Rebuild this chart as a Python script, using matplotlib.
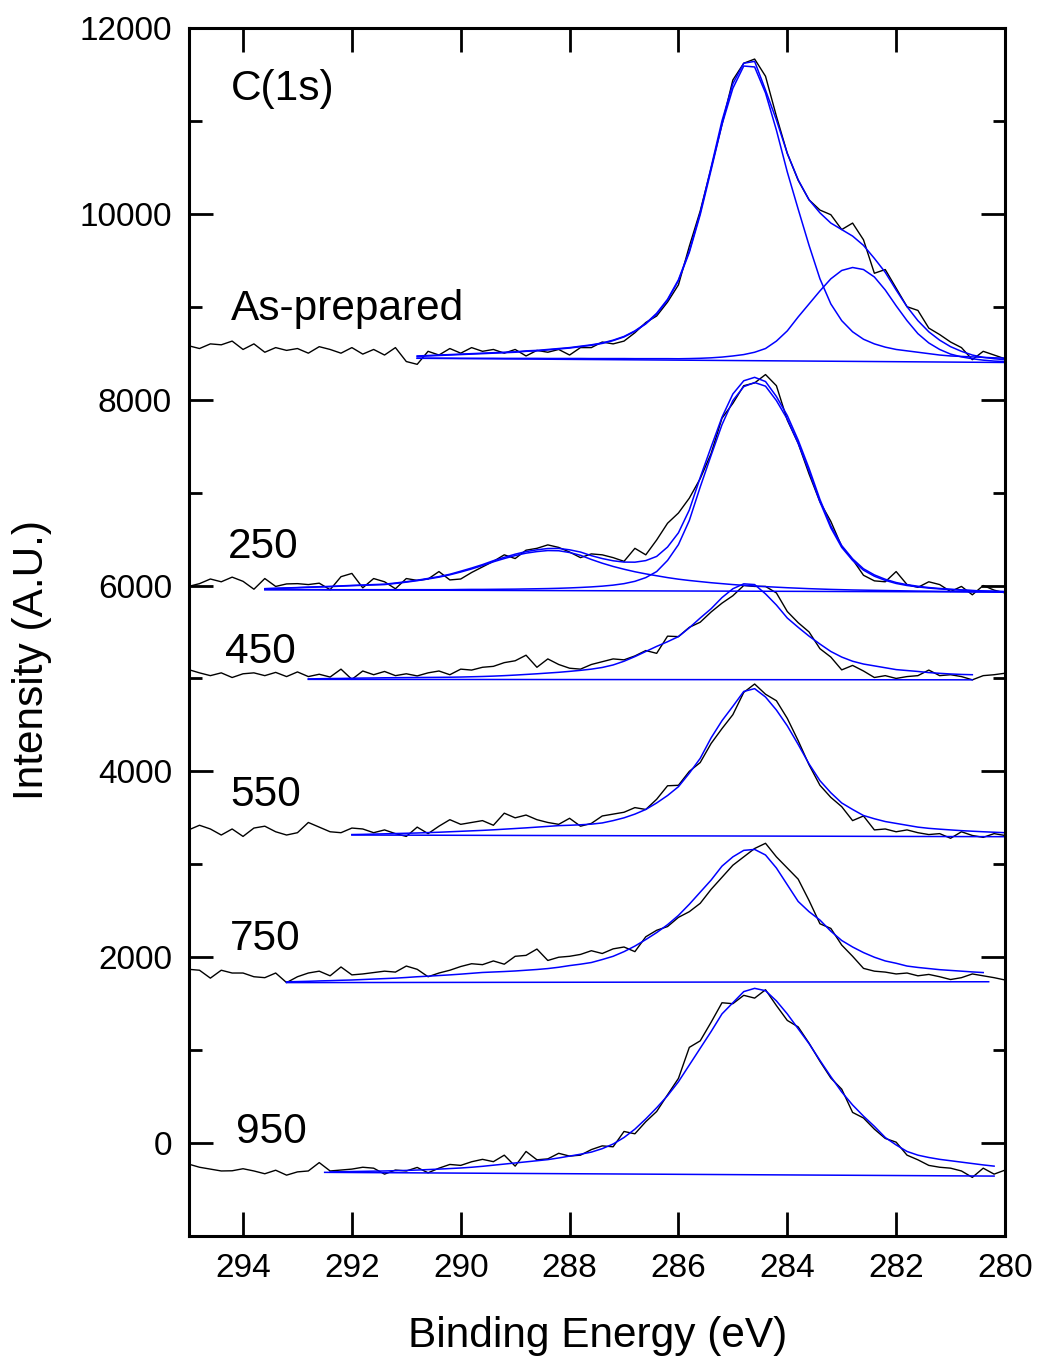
import numpy as np
import matplotlib.pyplot as plt
from matplotlib.ticker import MultipleLocator

plt.rcParams['font.family'] = ['Liberation Sans', 'DejaVu Sans']

# energia de ligadura de los espectros medidos (paso 0.2 eV)
e_data = np.linspace(295.0, 280.0, 76)

# espectros medidos (cuentas)
asprep = [8580, 8550, 8600, 8590, 8630, 8540, 8600, 8510, 8560, 8530,
          8550, 8500, 8570, 8540, 8500, 8560, 8490, 8540, 8480, 8560,
          8410, 8380, 8520, 8480, 8550, 8500, 8560, 8520, 8540, 8500,
          8540, 8470, 8530, 8510, 8540, 8480, 8560, 8560, 8620, 8600,
          8630, 8720, 8830, 8900, 9050, 9235, 9650, 10030, 10490, 10960,
          11440, 11620, 11665, 11480, 11050, 10650, 10360, 10150, 10040, 9990,
          9830, 9900, 9720, 9360, 9400, 9200, 9000, 8960, 8770, 8700,
          8620, 8560, 8430, 8520, 8480, 8440]
t250 = [5990, 6020, 6070, 6040, 6090, 6045, 5960, 6075, 5990, 6017,
        6020, 6010, 6025, 5955, 6095, 6130, 5975, 6075, 6040, 5965,
        6075, 6055, 6070, 6150, 6060, 6070, 6140, 6200, 6260, 6330,
        6290, 6380, 6400, 6437, 6410, 6360, 6300, 6340, 6330, 6300,
        6260, 6400, 6330, 6490, 6670, 6780, 6940, 7150, 7420, 7800,
        7960, 8150, 8180, 8270, 8150, 7780, 7530, 7200, 6900, 6690,
        6420, 6280, 6110, 6050, 6040, 6150, 6010, 5980, 6040, 6010,
        5935, 5990, 5900, 6000, 5950, 5920]
t450 = [5095, 5060, 5030, 5060, 5010, 5050, 5060, 5030, 5065, 5020,
        5070, 5020, 5045, 5015, 5100, 4990, 5080, 5040, 5075, 5030,
        5050, 5027, 5060, 5080, 5040, 5100, 5090, 5120, 5130, 5170,
        5190, 5250, 5120, 5210, 5150, 5110, 5100, 5150, 5180, 5210,
        5200, 5242, 5300, 5270, 5455, 5450, 5550, 5605, 5715, 5810,
        5890, 6000, 5990, 5990, 5920, 5720, 5600, 5500, 5320, 5230,
        5092, 5140, 5080, 5010, 5030, 5000, 5020, 5030, 5090, 5030,
        5040, 5020, 4985, 5030, 5040, 5056]
t550 = [3370, 3420, 3380, 3315, 3380, 3300, 3390, 3410, 3350, 3315,
        3340, 3450, 3400, 3350, 3340, 3390, 3380, 3340, 3370, 3330,
        3300, 3400, 3330, 3410, 3480, 3430, 3450, 3470, 3420, 3550,
        3500, 3530, 3480, 3450, 3430, 3495, 3410, 3440, 3520, 3540,
        3560, 3610, 3590, 3700, 3845, 3850, 4000, 4095, 4300, 4460,
        4610, 4850, 4940, 4830, 4760, 4570, 4330, 4070, 3850, 3720,
        3620, 3470, 3520, 3370, 3380, 3350, 3370, 3340, 3320, 3330,
        3280, 3350, 3310, 3290, 3330, 3310]
t750 = [1870, 1860, 1775, 1860, 1830, 1830, 1790, 1780, 1830, 1727,
        1790, 1830, 1850, 1800, 1895, 1810, 1820, 1835, 1850, 1840,
        1905, 1870, 1790, 1830, 1860, 1900, 1930, 1920, 1960, 1925,
        2010, 2020, 2088, 1965, 2000, 2010, 2030, 2070, 2040, 2090,
        2110, 2060, 2220, 2290, 2330, 2429, 2490, 2580, 2730, 2860,
        2990, 3080, 3170, 3226, 3080, 2960, 2840, 2610, 2360, 2310,
        2131, 2010, 1880, 1850, 1840, 1820, 1830, 1800, 1815, 1790,
        1760, 1780, 1820, 1800, 1780, 1755]
t950 = [-226, -260, -280, -300, -298, -276, -300, -330, -292, -345,
        -310, -300, -210, -300, -290, -280, -260, -270, -334, -290,
        -300, -262, -320, -270, -230, -240, -201, -175, -200, -130,
        -248, -90, -180, -170, -110, -140, -130, -70, -30, -40,
        125, 100, 230, 340, 520, 696, 1030, 1100, 1300, 1510,
        1500, 1590, 1560, 1650, 1480, 1320, 1250, 1075, 880, 700,
        580, 330, 270, 150, 50, 10, -130, -180, -240, -260,
        -270, -300, -369, -270, -334, -291]

# ajustes: As-prepared
e_fit_ap = np.linspace(290.8, 280.0, 55)
ap_env = [8470, 8475, 8480, 8485, 8490, 8495, 8500, 8505, 8510, 8515,
          8525, 8530, 8540, 8550, 8560, 8575, 8590, 8610, 8640, 8680,
          8740, 8820, 8930, 9080, 9290, 9600, 10010, 10500, 11000, 11400,
          11620, 11640, 11330, 11010, 10650, 10366, 10150, 10010, 9900, 9830,
          9760, 9660, 9520, 9370, 9180, 9000, 8850, 8730, 8640, 8570,
          8520, 8480, 8455, 8440, 8430]
ap_c1 = [8465, 8470, 8475, 8480, 8485, 8490, 8495, 8500, 8505, 8510,
         8520, 8525, 8535, 8545, 8555, 8570, 8585, 8605, 8635, 8675,
         8735, 8815, 8920, 9070, 9280, 9585, 9990, 10470, 10960, 11350,
         11590, 11580, 11300, 10900, 10450, 10050, 9660, 9300, 9030, 8850,
         8730, 8650, 8600, 8565, 8540, 8525, 8510, 8495, 8480, 8470,
         8465, 8460, 8455, 8450, 8447]
ap_c2 = [8446, 8446, 8446, 8446, 8445, 8445, 8445, 8445, 8444, 8444,
         8444, 8444, 8443, 8443, 8443, 8443, 8442, 8442, 8442, 8442,
         8441, 8441, 8441, 8441, 8440, 8442, 8445, 8450, 8458, 8470,
         8485, 8510, 8550, 8630, 8740, 8890, 9030, 9170, 9300, 9390,
         9422, 9400, 9320, 9180, 9010, 8850, 8710, 8610, 8540, 8490,
         8460, 8440, 8425, 8415, 8410]
ap_base_e = [290.8, 280.0]
ap_base = [8445, 8400]

# ajustes: 250
e_fit_250 = np.linspace(293.6, 280.0, 69)
f250_env = [5966, 5970, 5974, 5978, 5983, 5987, 5990, 5996, 6001, 6005,
            6010, 6014, 6027, 6041, 6057, 6076, 6096, 6121, 6154, 6188,
            6225, 6267, 6303, 6337, 6365, 6384, 6398, 6399, 6384, 6360,
            6321, 6290, 6266, 6252, 6251, 6268, 6313, 6414, 6567, 6813,
            7162, 7490, 7810, 8061, 8203, 8240, 8195, 8034, 7829, 7564,
            7260, 6926, 6642, 6430, 6287, 6180, 6114, 6067, 6032, 6009,
            5992, 5978, 5968, 5960, 5953, 5946, 5941, 5937, 5933]
f250_a = [5965, 5968, 5972, 5976, 5980, 5984, 5988, 5993, 5998, 6002,
          6006, 6010, 6022, 6036, 6052, 6070, 6090, 6115, 6145, 6178,
          6215, 6255, 6290, 6322, 6348, 6365, 6376, 6374, 6355, 6325,
          6280, 6240, 6205, 6175, 6148, 6125, 6105, 6085, 6068, 6054,
          6042, 6030, 6020, 6010, 6002, 5995, 5988, 5982, 5976, 5971,
          5966, 5962, 5958, 5955, 5952, 5950, 5948, 5946, 5944, 5942,
          5940, 5939, 5937, 5936, 5934, 5932, 5931, 5929, 5928]
f250_b = [5956, 5956, 5956, 5956, 5956, 5956, 5955, 5955, 5955, 5955,
          5955, 5955, 5955, 5955, 5955, 5955, 5955, 5955, 5957, 5958,
          5958, 5959, 5960, 5961, 5963, 5965, 5967, 5970, 5974, 5979,
          5985, 5993, 6004, 6020, 6045, 6085, 6150, 6270, 6440, 6700,
          7060, 7400, 7730, 7990, 8140, 8184, 8145, 7990, 7790, 7530,
          7230, 6900, 6620, 6410, 6270, 6165, 6100, 6055, 6022, 6000,
          5985, 5972, 5963, 5956, 5950, 5945, 5941, 5938, 5935]
f250_base_e = [293.6, 280.0]
f250_base = [5955, 5930]

# ajustes: 450
e_fit_450 = np.linspace(292.8, 280.6, 62)
f450 = [4995, 4997, 4999, 5000, 5002, 5004, 5005, 5007, 5008, 5009,
        5010, 5011, 5012, 5013, 5015, 5018, 5021, 5025, 5030, 5036,
        5043, 5050, 5058, 5066, 5076, 5087, 5100, 5118, 5145, 5185,
        5235, 5290, 5345, 5395, 5450, 5545, 5650, 5750, 5870, 5965,
        6018, 6010, 5910, 5790, 5650, 5550, 5455, 5370, 5290, 5230,
        5185, 5155, 5135, 5115, 5095, 5085, 5075, 5063, 5055, 5048,
        5043, 5040]
f450_base_e = [292.8, 280.6]
f450_base = [4990, 4985]

# ajustes: 550
e_fit_550 = np.linspace(292.0, 280.0, 61)
f550 = [3320, 3322, 3325, 3328, 3331, 3334, 3337, 3341, 3345, 3350,
        3355, 3360, 3365, 3371, 3378, 3385, 3392, 3400, 3408, 3416,
        3420, 3425, 3432, 3445, 3470, 3500, 3540, 3590, 3660, 3740,
        3835, 3980, 4140, 4360, 4545, 4700, 4860, 4890, 4800, 4660,
        4490, 4290, 4080, 3900, 3770, 3660, 3590, 3525, 3490, 3460,
        3440, 3420, 3400, 3387, 3378, 3370, 3362, 3356, 3350, 3345,
        3340]
f550_base_e = [292.0, 280.0]
f550_base = [3315, 3297]

# ajustes: 750
e_fit_750 = np.linspace(293.2, 280.4, 65)
f750 = [1735, 1738, 1741, 1745, 1748, 1752, 1755, 1760, 1765, 1770,
        1775, 1782, 1790, 1796, 1803, 1810, 1818, 1827, 1836, 1841,
        1846, 1852, 1860, 1868, 1878, 1892, 1910, 1925, 1943, 1975,
        2010, 2060, 2120, 2190, 2265, 2350, 2450, 2570, 2700, 2830,
        2980, 3080, 3150, 3160, 3100, 2960, 2780, 2600, 2490, 2400,
        2280, 2180, 2110, 2050, 2000, 1960, 1935, 1905, 1890, 1878,
        1866, 1858, 1850, 1842, 1835]
f750_base_e = [293.2, 280.3]
f750_base = [1727, 1736]

# ajustes: 950
e_fit_950 = np.linspace(292.4, 280.2, 62)
f950 = [-310, -308, -306, -304, -302, -300, -297, -294, -290, -285,
        -280, -274, -268, -260, -250, -238, -226, -214, -202, -190,
        -178, -160, -140, -120, -97, -60, -10, 60, 150, 260,
        380, 510, 660, 840, 1020, 1200, 1390, 1510, 1630, 1665,
        1640, 1530, 1390, 1230, 1070, 890, 715, 550, 410, 290,
        180, 60, -20, -90, -130, -155, -175, -190, -205, -220,
        -235, -248]
f950_base_e = [292.5, 280.2]
f950_base = [-315, -355]

etiquetas = ['As-prepared', '250', '450', '550', '750', '950']

fig = plt.figure(figsize=(10.38, 13.62), dpi=100)
ax = fig.add_axes([0.1817, 0.0925, 0.7865, 0.887])

negro = dict(color='black', lw=1.0)
azul = dict(color='#0000ff', lw=1.1)

for serie in [asprep, t250, t450, t550, t750, t950]:
    ax.plot(e_data, serie, **negro)

# curvas de ajuste
ax.plot(ap_base_e, ap_base, **azul)
ax.plot(e_fit_ap, ap_c1, **azul)
ax.plot(e_fit_ap, ap_c2, **azul)
ax.plot(e_fit_ap, ap_env, **azul)

ax.plot(f250_base_e, f250_base, **azul)
ax.plot(e_fit_250, f250_a, **azul)
ax.plot(e_fit_250, f250_b, **azul)
ax.plot(e_fit_250, f250_env, **azul)

ax.plot(f450_base_e, f450_base, **azul)
ax.plot(e_fit_450, f450, **azul)
ax.plot(f550_base_e, f550_base, **azul)
ax.plot(e_fit_550, f550, **azul)
ax.plot(f750_base_e, f750_base, **azul)
ax.plot(e_fit_750, f750, **azul)
ax.plot(f950_base_e, f950_base, **azul)
ax.plot(e_fit_950, f950, **azul)

# textos
fs = 30.5
ax.text(294.22, 11227, 'C(1s)', fontsize=fs, va='baseline')
pos = [(294.22, 8859), (294.27, 6294), (294.34, 5170),
       (294.24, 3628), (294.24, 2077), (294.12, -3)]
for (x, y), t in zip(pos, etiquetas):
    ax.text(x, y, t, fontsize=fs, va='baseline')

ax.set_xlim(295, 280)
ax.set_ylim(-1000, 12000)
ax.xaxis.set_major_locator(MultipleLocator(2))
ax.yaxis.set_major_locator(MultipleLocator(2000))
ax.yaxis.set_minor_locator(MultipleLocator(1000))
ax.tick_params(which='both', direction='in', top=True, right=True, width=2)
ax.tick_params(which='major', length=17, labelsize=24, pad=12)
ax.tick_params(which='minor', length=9)
for s in ax.spines.values():
    s.set_linewidth(2.2)

ax.set_xlabel('Binding Energy (eV)', fontsize=fs)
ax.set_ylabel('Intensity (A.U.)', fontsize=fs)
ax.xaxis.set_label_coords(0.5015, -0.066)
ax.yaxis.set_label_coords(-0.167, 0.477)

plt.savefig('out.png', dpi=100)
